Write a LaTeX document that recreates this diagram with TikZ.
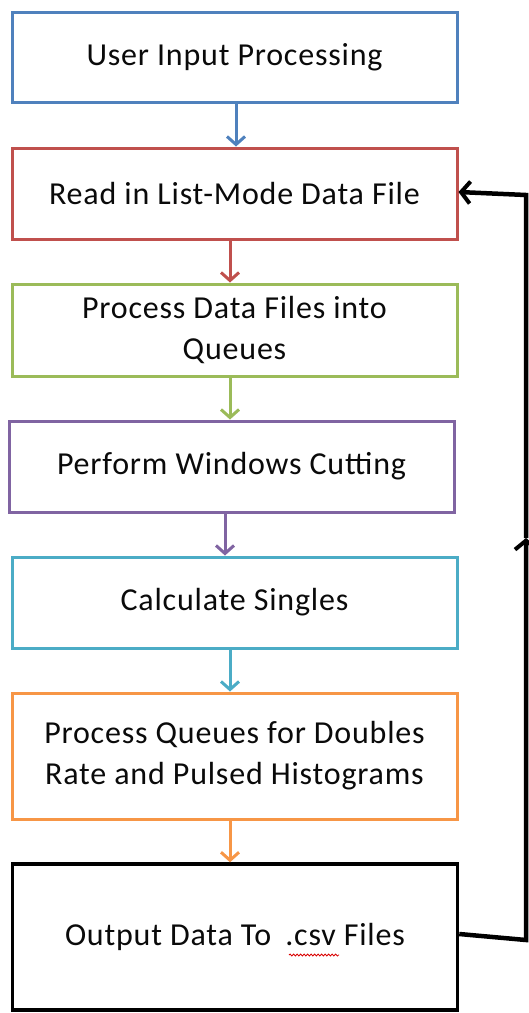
\documentclass[tikz,border=0pt]{standalone}
\usepackage{fontspec}
\setmainfont[LetterSpace=2.5]{Carlito}
\usetikzlibrary{arrows.meta,decorations.pathmorphing}
\definecolor{cblue}{HTML}{4F81BD}
\definecolor{cred}{HTML}{C0504D}
\definecolor{cgreen}{HTML}{9BBB59}
\definecolor{cpurple}{HTML}{8064A2}
\definecolor{ccyan}{HTML}{4BACC6}
\definecolor{corange}{HTML}{F79646}
\definecolor{ctext}{HTML}{0A0A0A}
\tikzset{
  x=1pt, y=-1pt,
  box/.style={draw, line width=3pt, rectangle, minimum width=445pt, align=center, inner sep=0pt,
              font=\fontsize{32}{41}\selectfont, text=ctext},
  flow/.style={line width=3pt, -{Straight Barb[length=8pt,width=18pt,line width=3pt]}},
  fb/.style={line width=4.5pt, line join=miter, -{Straight Barb[length=9pt,width=22pt,line width=4pt]}},
}
\begin{document}
\begin{tikzpicture}
\useasboundingbox (0,0) rectangle (529,1013);
\node[box, draw=cblue, minimum height=90pt] (b1) at (234.5,57) {User Input Processing};
\node[box, draw=cred, minimum height=91pt] (b2) at (234.5,193.5) {Read in List-Mode Data File};
\node[box, draw=cgreen, minimum height=92pt] (b3) at (234.5,330) {Process Data Files into\\Queues};
\node[box, draw=cpurple, minimum height=91pt] (b4) at (231.5,466.5) {Perform Windows Cutting};
\node[box, draw=ccyan, minimum height=91pt] (b5) at (234.5,602.5) {Calculate Singles};
\node[box, draw=corange, minimum height=126pt] (b6) at (234.5,756) {Process Queues for Doubles\\Rate and Pulsed Histograms};
\node[box, draw=black, line width=3.5pt, minimum height=146pt] (b7) at (235,937) {Output Data To\hspace{6pt} .csv Files};

\draw[flow, cblue] ([xshift=1.5pt]b1.south) -- ([xshift=1.5pt]b2.north);
\draw[flow, cred] ([xshift=-4.5pt]b2.south) -- ([xshift=-4.5pt]b3.north);
\draw[flow, cgreen] ([xshift=-4.5pt]b3.south) -- ([xshift=-1.5pt]b4.north);
\draw[flow, cpurple] ([xshift=-6.5pt]b4.south) -- ([xshift=-9.5pt]b5.north);
\draw[flow, ccyan] ([xshift=-4.5pt]b5.south) -- ([xshift=-4.5pt]b6.north);
\draw[flow, corange] ([xshift=-4.5pt]b6.south) -- ([xshift=-5pt]b7.north);

\coordinate (c1) at (526,940);
\coordinate (cm) at (526,538);
\coordinate (c2) at (526,195);
\draw[fb] ([yshift=3pt]b7.east) -- (c1) -- (cm);
\draw[fb] (cm) -- (c2) -- ([yshift=1.5pt]b2.east);

\draw[red!85!black, line width=0.8pt, decorate, decoration={snake, amplitude=1pt, segment length=3.5pt}] (289,955) -- (339,955);
\end{tikzpicture}
\end{document}
